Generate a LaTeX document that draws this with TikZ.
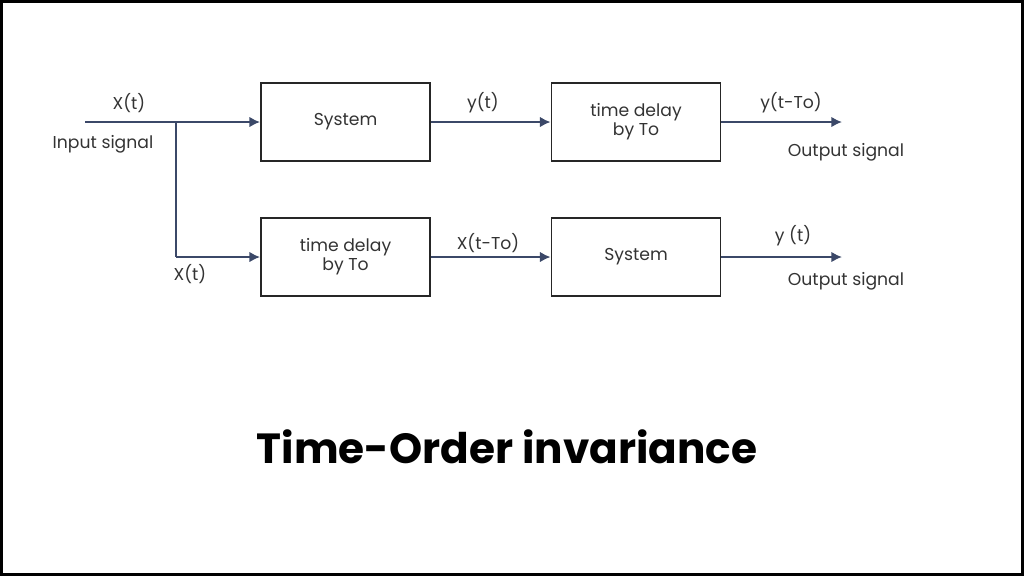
\documentclass[tikz,border=0pt]{standalone}
\usepackage{fontspec}
\setmainfont{Poppins}
\usetikzlibrary{arrows.meta}
\definecolor{wire}{HTML}{3B4868}
\pgfdeclarelayer{edgelayer}
\pgfdeclarelayer{nodelayer}
\pgfsetlayers{edgelayer,nodelayer,main}
\tikzstyle{none}=[inner sep=0pt]
\tikzstyle{label}=[inner sep=0pt,font=\fontsize{4.9}{5.4}\selectfont,text=black!80,align=center]
\tikzstyle{block}=[draw=black!85,line width=0.55pt,minimum width=1.69cm,minimum height=0.78cm,inner sep=0pt,font=\fontsize{4.9}{5.4}\selectfont,align=center,text=black!80]
\tikzstyle{simple}=[-,draw=wire,line width=0.55pt]
\tikzstyle{signal}=[-{Latex[length=3pt,width=3pt]},draw=wire,line width=0.55pt]

\begin{document}
\begin{tikzpicture}
	\useasboundingbox (0,0) rectangle (10.24,-5.76);
	\draw [line width=0.9pt] (0.015,-0.015) rectangle (10.225,-5.745);
	\begin{pgfonlayer}{nodelayer}
		\node [style=block] (0) at (3.455, -1.22) {System};
		\node [style=block] (1) at (6.36, -1.22) {time delay\\by To};
		\node [style=block] (2) at (3.455, -2.57) {time delay\\by To};
		\node [style=block] (3) at (6.36, -2.57) {System};
		\node [style=none] (4) at (0.85, -1.22) {};
		\node [style=none] (5) at (1.76, -1.22) {};
		\node [style=none] (6) at (1.76, -2.57) {};
		\node [style=none] (7) at (8.42, -1.22) {};
		\node [style=none] (8) at (8.42, -2.57) {};
		\node [style=label] (9) at (1.29, -1.03) {X(t)};
		\node [style=label] (10) at (1.03, -1.44) {Input signal};
		\node [style=label] (11) at (4.83, -1.03) {y(t)};
		\node [style=label] (12) at (7.91, -1.03) {y(t-To)};
		\node [style=label] (13) at (8.46, -1.52) {Output signal};
		\node [style=label] (14) at (1.90, -2.74) {X(t)};
		\node [style=label] (15) at (4.88, -2.43) {X(t-To)};
		\node [style=label] (16) at (7.93, -2.36) {y (t)};
		\node [style=label] (17) at (8.46, -2.81) {Output signal};
		\node [style=none, font=\fontsize{12}{14}\selectfont\bfseries] (18) at (5.07, -4.47) {Time-Order invariance};
	\end{pgfonlayer}
	\begin{pgfonlayer}{edgelayer}
		\draw [style=simple] (4.center) to (5.center);
		\draw [style=signal] (5.center) to (0.west);
		\draw [style=simple] (5.center) to (6.center);
		\draw [style=signal] (6.center) to (2.west);
		\draw [style=signal] (0.east) to (1.west);
		\draw [style=signal] (2.east) to (3.west);
		\draw [style=signal] (1.east) to (7.center);
		\draw [style=signal] (3.east) to (8.center);
	\end{pgfonlayer}
\end{tikzpicture}
\end{document}
